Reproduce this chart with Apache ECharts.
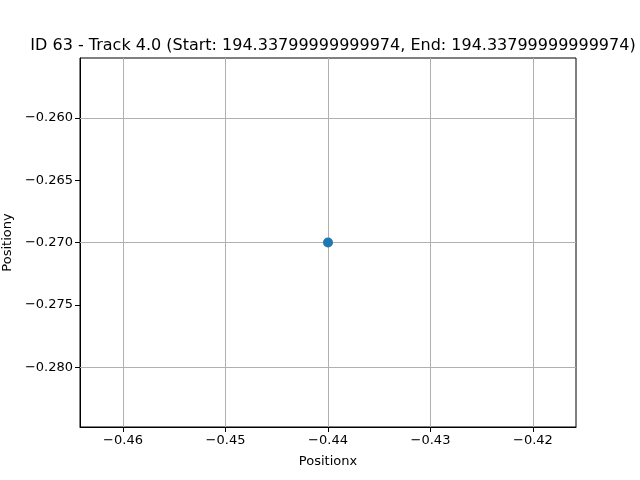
<!DOCTYPE html>
<html><head><meta charset="utf-8">
<script src="https://cdn.jsdelivr.net/npm/echarts@6/dist/echarts.min.js"></script>
<style>html,body{margin:0;padding:0;background:#fff}#c{width:640px;height:480px}</style>
</head><body><div id="c"></div>
<script>
const xs = [-0.44];
const ys = [-0.27];
const xTicks = [-0.46, -0.45, -0.44, -0.43, -0.42];
const yTicks = [-0.28, -0.275, -0.27, -0.265, -0.26];
const titleText = 'ID 63 - Track 4.0 (Start: 194.33799999999974, End: 194.33799999999974)';
const fmt = d => v => (v < 0 ? '\u2212' : '') + Math.abs(v).toFixed(d);
const chart = echarts.init(document.getElementById('c'));
const axisCommon = {
  axisLine: {show: true, onZero: false, lineStyle: {color: '#000', width: 1}},
  splitLine: {show: false},
  nameTextStyle: {color: '#000', fontSize: 13, fontFamily: 'DejaVu Sans'}
};
const gridLines = xTicks.map(v => ({xAxis: v})).concat(yTicks.map(v => ({yAxis: v})));
chart.setOption({
  animation: false,
  title: {text: titleText, left: 328, textAlign: 'center', top: 33,
    textStyle: {fontSize: 16, fontWeight: 'normal', color: '#000', fontFamily: 'DejaVu Sans'}},
  grid: {left: 80, right: 64, top: 58, bottom: 53, show: true, borderColor: '#000', borderWidth: 1,
    containLabel: false, outerBoundsMode: 'none'},
  xAxis: Object.assign({}, axisCommon, {type: 'value', min: -0.4642, max: -0.4158,
    name: 'Positionx', nameLocation: 'middle', nameGap: 28,
    axisTick: {show: true, length: 5, lineStyle: {color: '#000'}, customValues: xTicks},
    axisLabel: {customValues: xTicks, formatter: fmt(2), color: '#000', fontSize: 13, fontFamily: 'DejaVu Sans', margin: 7}}),
  yAxis: Object.assign({}, axisCommon, {type: 'value', min: -0.2848, max: -0.2552,
    name: 'Positiony', nameLocation: 'middle', nameGap: 66,
    axisTick: {show: true, length: 5, lineStyle: {color: '#000'}, customValues: yTicks},
    axisLabel: {customValues: yTicks, formatter: fmt(3), color: '#000', fontSize: 13, fontFamily: 'DejaVu Sans', margin: 7}}),
  series: [{type: 'line', data: xs.map((x, i) => [x, ys[i]]), symbol: 'circle', symbolSize: 10, z: 5,
    itemStyle: {color: '#1f77b4'}, lineStyle: {color: '#1f77b4', width: 1.5},
    markLine: {silent: true, symbol: ['none', 'none'], label: {show: false}, z: 1,
      lineStyle: {color: '#b0b0b0', width: 1, type: 'solid'}, emphasis: {disabled: true},
      data: gridLines}}]
});
</script></body></html>
